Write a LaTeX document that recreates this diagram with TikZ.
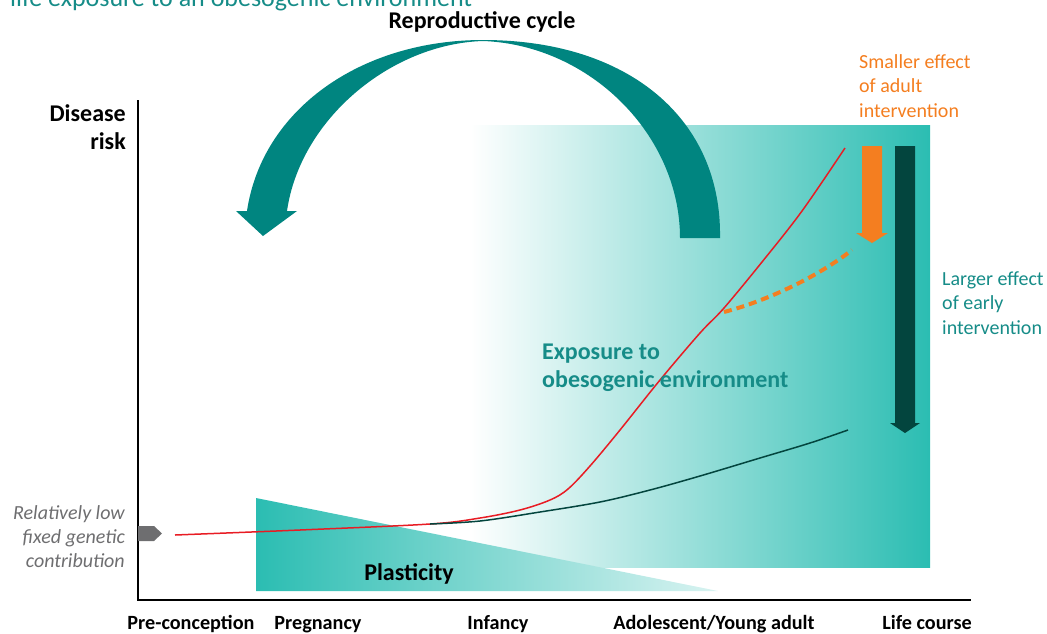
\documentclass[tikz,border=0pt]{standalone}
\usepackage{fontspec}
\setmainfont{Carlito}
\definecolor{arcteal}{RGB}{0,133,128}
\definecolor{brightteal}{RGB}{43,189,178}
\definecolor{textteal}{RGB}{22,140,136}
\definecolor{orangeA}{RGB}{244,126,32}
\definecolor{darkgreen}{RGB}{3,69,62}
\definecolor{greyA}{RGB}{110,110,112}
\definecolor{redA}{RGB}{232,28,36}
\begin{document}
\begin{tikzpicture}[x=1pt,y=-1pt,
  axislabel/.style={font=\bfseries\fontsize{20.2}{24}\selectfont, anchor=base, inner sep=0pt},
  sidetext/.style={font=\fontsize{20}{24.5}\selectfont, align=left, anchor=west, inner sep=0pt},
  boldlabel/.style={font=\bfseries\fontsize{24}{28}\selectfont, inner sep=0pt}]
\useasboundingbox (0,0) rectangle (1047,633);
\clip (0,0) rectangle (1047,633);
% background gradient of exposure
\shade[left color=white, right color=brightteal] (470,125) rectangle (930,567);
% plasticity triangle
\shade[left color=brightteal, right color=brightteal!18] (256,498) -- (718,591) -- (256,591) -- cycle;
% axes
\draw[line width=2pt] (138,100) -- (138,600) -- (971,600);
% curves
\draw[redA, line width=1.5pt] plot[smooth, tension=0.55] coordinates {(175,535) (300,530) (430,524) (480,518) (520,510) (550,500) (568,489) (590,466) (620,430) (660,380) (700,333) (724,308) (762,262) (802,211) (845,148)};
\draw[darkgreen, line width=1.5pt] plot[smooth, tension=0.55] coordinates {(430,524) (480,521) (540,512) (600,502) (650,490) (700,476) (760,458) (810,443) (848,430)};
\draw[orangeA, line width=4pt, dash pattern=on 8pt off 5pt] (724,312) .. controls (770,300) and (820,275) .. (852,250);
% intervention arrows
\fill[orangeA] (862,146) -- (882,146) -- (882,233) -- (888,233) -- (872,243) -- (856,233) -- (862,233) -- cycle;
\fill[darkgreen] (895,146) -- (915,146) -- (915,423) -- (920,423) -- (905,433) -- (890,423) -- (895,423) -- cycle;
% genetic arrow
\fill[greyA] (138,526) -- (154,526) -- (162,533.5) -- (154,541) -- (138,541) -- cycle;
% reproductive cycle arrow
\fill[arcteal] (720,238) .. controls (722,120) and (630,40) .. (483,40)
  .. controls (360,40) and (262,110) .. (247,211) -- (236,211) -- (263,236) -- (297,211) -- (287,211)
  .. controls (300,120) and (390,44) .. (483,41)
  .. controls (590,45) and (680,135) .. (680,238) -- cycle;
% texts
\node[anchor=base west, inner sep=0pt, font=\fontsize{26}{30}\selectfont, text=textteal] (title) at (10,6) {life exposure to an obesogenic environment};
\node[boldlabel, font=\bfseries\fontsize{24}{28}\selectfont] (repro) at (482,22) {Reproductive cycle};
\node[boldlabel, align=right, anchor=east] (risk) at (126,127) {Disease\\risk};
\node[sidetext, text=orangeA] (smaller) at (859,86) {Smaller effect\\of adult\\intervention};
\node[sidetext, text=textteal] (larger) at (942,303) {Larger effect\\of early\\intervention};
\node[boldlabel, align=left, anchor=west, text=textteal] (expo) at (542,368) {Exposure to\\obesogenic environment};
\node[boldlabel] (plast) at (409,574) {Plasticity};
\node[font=\itshape\fontsize{20}{24}\selectfont, align=right, anchor=east, inner sep=0pt, text=greyA] (genetic) at (125,537) {Relatively low\\fixed genetic\\contribution};
\node[axislabel] (pre) at (191,629) {Pre-conception};
\node[axislabel] (preg) at (318,629) {Pregnancy};
\node[axislabel] (inf) at (498,629) {Infancy};
\node[axislabel] (adol) at (714,629) {Adolescent/Young adult};
\node[axislabel] (life) at (927,629) {Life course};
\end{tikzpicture}
\end{document}
